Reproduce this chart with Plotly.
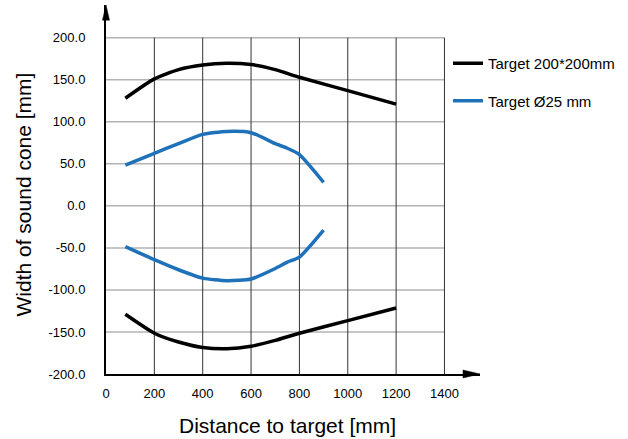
import plotly.graph_objects as go

# ---- data ----
black_x = [80, 200, 300, 400, 500, 600, 700, 800, 1000, 1200]
black_upper = [128, 151, 162, 167.5, 169.5, 168, 162, 153, 137, 121]
black_lower = [-129, -151.5, -162, -168.5, -170, -167, -160, -151.5, -136.5, -121.5]

blue_x = [80, 200, 300, 400, 500, 600, 700, 750, 800, 900]
blue_upper = [48.5, 62.5, 74, 85, 88.5, 87, 74, 68.5, 61, 28]
blue_lower = [-48.5, -64, -76, -86, -89, -87, -74.5, -67, -61, -29]

series_names = ["Target 200*200mm", "Target Ø25 mm"]

x_ticks = [0, 200, 400, 600, 800, 1000, 1200, 1400]
x_ticklabels = [str(v) for v in x_ticks]
y_ticks = [-200, -150, -100, -50, 0, 50, 100, 150, 200]
y_ticklabels = [f"{v:.1f}" for v in y_ticks]

x_title = "Distance to target [mm]"
y_title = "Width of sound cone [mm]"

BLACK = "#000000"
BLUE = "#1f72ba"
FONT = "Liberation Sans, Arial, Helvetica, sans-serif"

fig = go.Figure()

fig.add_trace(go.Scatter(x=black_x, y=black_upper, mode="lines", name=series_names[0],
                         legendgroup="a", line=dict(color=BLACK, width=3.5, shape="spline", smoothing=0.6)))
fig.add_trace(go.Scatter(x=black_x, y=black_lower, mode="lines", name=series_names[0],
                         legendgroup="a", showlegend=False,
                         line=dict(color=BLACK, width=3.5, shape="spline", smoothing=0.6)))
fig.add_trace(go.Scatter(x=blue_x, y=blue_upper, mode="lines", name=series_names[1],
                         legendgroup="b", line=dict(color=BLUE, width=3.5, shape="spline", smoothing=0.6)))
fig.add_trace(go.Scatter(x=blue_x, y=blue_lower, mode="lines", name=series_names[1],
                         legendgroup="b", showlegend=False,
                         line=dict(color=BLUE, width=3.5, shape="spline", smoothing=0.6)))

shapes = []
# horizontal grid lines (light gray), stop at last x tick
for v in y_ticks[1:]:
    shapes.append(dict(type="line", xref="x", yref="y", x0=x_ticks[0], x1=x_ticks[-1], y0=v, y1=v,
                       line=dict(color="#b3b3b3", width=1.5), layer="below"))
# vertical grid lines (dark)
for v in x_ticks[1:]:
    shapes.append(dict(type="line", xref="x", yref="y", x0=v, x1=v, y0=y_ticks[0], y1=y_ticks[-1],
                       line=dict(color="#333333", width=1), layer="below"))
# arrowheads on axes
shapes.append(dict(type="path", xref="paper", yref="paper",
                   path="M 0,1 L -0.0094,0.959 L 0.0094,0.959 Z",
                   fillcolor=BLACK, line=dict(color=BLACK, width=0.5)))
shapes.append(dict(type="path", xref="paper", yref="paper",
                   path="M 1,0 L 0.9545,0.0108 L 0.9545,-0.0108 Z",
                   fillcolor=BLACK, line=dict(color=BLACK, width=0.5)))

annotations = [
    dict(text=x_title, xref="paper", yref="paper", x=(287.5 - 106) / 374, y=(374 - 425) / 369,
         xanchor="center", yanchor="middle", showarrow=False, font=dict(size=21, color=BLACK, family=FONT)),
    dict(text=y_title, xref="paper", yref="paper", x=(22.5 - 106) / 374, y=(374 - 195) / 369,
         xanchor="center", yanchor="middle", textangle=-90, showarrow=False,
         font=dict(size=21, color=BLACK, family=FONT)),
]

fig.update_layout(
    width=628, height=439,
    margin=dict(l=106, r=148, t=5, b=65, pad=0),
    paper_bgcolor="white", plot_bgcolor="white",
    font=dict(family=FONT, color=BLACK, size=13),
    shapes=shapes, annotations=annotations,
    showlegend=True,
    legend=dict(x=(448 - 106) / 374, y=(374 - 47) / 369, xanchor="left", yanchor="top",
                font=dict(size=15, family=FONT, color=BLACK), bgcolor="rgba(0,0,0,0)",
                traceorder="grouped", tracegroupgap=15, itemwidth=30),
)
fig.update_xaxes(range=[0, 1547], tickvals=x_ticks, ticktext=x_ticklabels, showgrid=False, zeroline=False,
                 showline=True, linecolor=BLACK, linewidth=2, ticks="", ticklabelstandoff=6,
                 automargin=False, tickfont=dict(size=13, family=FONT, color=BLACK))
fig.update_yaxes(range=[-200, 238.9], tickvals=y_ticks, ticktext=y_ticklabels, showgrid=False, zeroline=False,
                 showline=True, linecolor=BLACK, linewidth=2, ticks="", ticklabelstandoff=16,
                 automargin=False, tickfont=dict(size=13, family=FONT, color=BLACK))

fig.write_html("out.html", post_script="document.body.style.margin='0';",
               config={"displayModeBar": False})
